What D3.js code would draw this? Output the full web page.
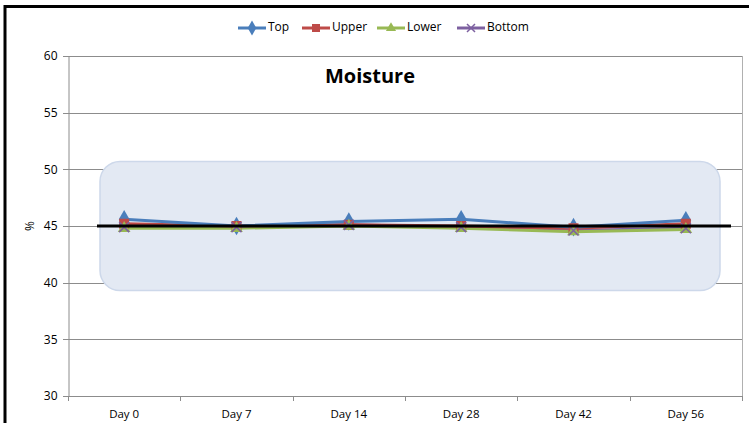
<!DOCTYPE html>
<html>
<head>
<meta charset="utf-8">
<script src="https://cdn.jsdelivr.net/npm/d3@7"></script>
<style>
  body { margin: 0; background: #fff; }
  text { font-family: "Open Sans", "DejaVu Sans", sans-serif; }
</style>
</head>
<body>
<script>
const width = 749;
const height = 423;

// datos
const days = ["Day 0", "Day 7", "Day 14", "Day 28", "Day 42", "Day 56"];
const top_ = [45.6, 45.0, 45.4, 45.6, 44.9, 45.5];
const upper = [45.2, 45.0, 45.1, 45.0, 44.8, 45.2];
const lower = [44.8, 44.8, 45.0, 44.8, 44.5, 44.7];
const bottom = [44.9, 44.9, 45.1, 44.9, 44.6, 44.8];
const yTicks = [30, 35, 40, 45, 50, 55, 60];
const target = 45;
const bandRange = [39.3, 50.7];

const series = [
  {name: "Top", values: top_, color: "#4a7ebb", marker: "diamond"},
  {name: "Upper", values: upper, color: "#be4b48", marker: "square"},
  {name: "Lower", values: lower, color: "#98b954", marker: "triangle"},
  {name: "Bottom", values: bottom, color: "#7d60a0", marker: "x"}
];

const margin = {left: 68, right: 7, top: 56, bottom: 27};

const svg = d3.select("body")
  .append("svg")
  .attr("width", width)
  .attr("height", height);

// borde negro del grafico
svg.append("line").attr("x1", 4).attr("x2", width).attr("y1", 6.5).attr("y2", 6.5)
  .attr("stroke", "#000").attr("stroke-width", 3);
svg.append("line").attr("x1", 5).attr("x2", 5).attr("y1", 5).attr("y2", height)
  .attr("stroke", "#000").attr("stroke-width", 3);

const x = d3.scaleBand()
  .domain(days)
  .range([margin.left, width - margin.right]);

const y = d3.scaleLinear()
  .domain([30, 60])
  .range([height - margin.bottom, margin.top]);

// rejilla
svg.append("g")
  .selectAll("line")
  .data(yTicks)
  .join("line")
  .attr("x1", margin.left - 5)
  .attr("x2", width - margin.right)
  .attr("y1", d => Math.round(y(d)) + 0.5)
  .attr("y2", d => Math.round(y(d)) + 0.5)
  .attr("stroke", "#8c8c8c")
  .attr("stroke-width", 1);

// borde derecho del area de trazado
svg.append("line")
  .attr("x1", width - margin.right + 0.5).attr("x2", width - margin.right + 0.5)
  .attr("y1", y(60)).attr("y2", y(30) + 5)
  .attr("stroke", "#b0b0b0");

// eje y
const yAxis = svg.append("g")
  .attr("transform", `translate(${margin.left + 0.5},0)`)
  .call(d3.axisLeft(y).tickValues(yTicks).tickSize(5).tickPadding(6));
yAxis.select(".domain").attr("stroke", "#8c8c8c");
yAxis.selectAll(".tick line").remove();
yAxis.selectAll("text").style("font-size", "12px").attr("fill", "#000")
  .style("font-family", "'Open Sans', sans-serif");

// eje x
const xAxis = svg.append("g")
  .attr("transform", `translate(0,${Math.round(y(30)) + 0.5})`)
  .call(d3.axisBottom(x).tickSize(0).tickPadding(13));
xAxis.select(".domain").remove();
xAxis.selectAll("text").style("font-size", "11.5px").attr("fill", "#000")
  .style("font-family", "'Open Sans', sans-serif");

// marcas del eje x entre categorias
svg.append("g")
  .selectAll("line")
  .data(days.concat(["end"]))
  .join("line")
  .attr("x1", (d, i) => Math.round(margin.left + i * x.step()) + 0.5)
  .attr("x2", (d, i) => Math.round(margin.left + i * x.step()) + 0.5)
  .attr("y1", y(30))
  .attr("y2", y(30) + 5)
  .attr("stroke", "#8c8c8c");

svg.append("text")
  .attr("transform", `translate(31,${y(45)}) rotate(-90)`)
  .attr("text-anchor", "middle")
  .attr("dominant-baseline", "middle")
  .style("font-size", "12px")
  .text("%");

// banda sombreada
svg.append("rect")
  .attr("x", 100)
  .attr("y", y(bandRange[1]))
  .attr("width", 620)
  .attr("height", y(bandRange[0]) - y(bandRange[1]))
  .attr("rx", 20)
  .attr("ry", 20)
  .attr("fill", "#e3e9f3")
  .attr("stroke", "#cdd8ea")
  .attr("stroke-width", 1.5);

// titulo
svg.append("text")
  .attr("x", 370)
  .attr("y", 83)
  .attr("text-anchor", "middle")
  .style("font-size", "20px")
  .style("font-weight", "bold")
  .text("Moisture");

const cx = d => x(d) + x.bandwidth() / 2;

function drawMarker(sel, type, color, s) {
  if (type === "diamond") {
    sel.append("path").attr("d", d3.symbol(d3.symbolDiamond, s * s * 1.0)()).attr("fill", color);
  } else if (type === "square") {
    sel.append("rect").attr("x", -s / 2).attr("y", -s / 2).attr("width", s).attr("height", s).attr("fill", color);
  } else if (type === "triangle") {
    sel.append("path").attr("d", d3.symbol(d3.symbolTriangle, s * s * 0.7)()).attr("fill", color);
  } else {
    sel.append("path").attr("d", `M${-s / 2},${-s / 2}L${s / 2},${s / 2}M${-s / 2},${s / 2}L${s / 2},${-s / 2}`)
      .attr("stroke", color).attr("stroke-width", 1.5).attr("fill", "none");
  }
}

const line = d3.line()
  .x((d, i) => cx(days[i]))
  .y(d => y(d));

// lineas de series
const drawOrder = [...series].reverse();
drawOrder.forEach(s => {
  svg.append("path")
    .datum(s.values)
    .attr("d", line)
    .attr("fill", "none")
    .attr("stroke", s.color)
    .attr("stroke-width", 3);
});
series.forEach(s => {
  s.values.forEach((v, i) => {
    const g = svg.append("g").attr("transform", `translate(${cx(days[i])},${y(v)})`);
    drawMarker(g, s.marker, s.color, 10);
  });
});

// linea objetivo
svg.append("line")
  .attr("x1", 97)
  .attr("x2", 731)
  .attr("y1", y(target))
  .attr("y2", y(target))
  .attr("stroke", "#000")
  .attr("stroke-width", 3);

// leyenda
const legendX = [238, 302, 377, 457];
const legend = svg.append("g");
series.forEach((s, i) => {
  const g = legend.append("g").attr("transform", `translate(${legendX[i]},28)`);
  g.append("line").attr("x1", 0).attr("x2", 28).attr("stroke", s.color).attr("stroke-width", 3);
  const m = g.append("g").attr("transform", "translate(14,0)");
  drawMarker(m, s.marker, s.color, 8);
  g.append("text")
    .attr("x", 30)
    .attr("dominant-baseline", "middle")
    .style("font-size", "12px")
    .text(s.name);
});
</script>
</body>
</html>
